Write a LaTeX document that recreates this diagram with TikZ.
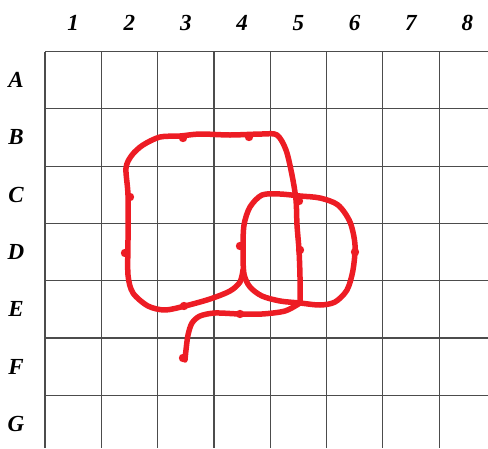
\documentclass[tikz,border=0pt]{standalone}
\usepackage{fontspec}
\setmainfont{Liberation Serif}
\definecolor{penred}{RGB}{237,28,36}
\tikzset{
  gridline/.style={line width=1.2pt,black!70},
  route/.style={line width=5.5pt,penred,line cap=round,line join=round},
  lbl/.style={font=\fontsize{23}{26}\selectfont\bfseries\itshape}
}
\begin{document}
\begin{tikzpicture}[x=1pt,y=-1pt]
  \useasboundingbox (0,0) rectangle (488,448);
  \foreach \i in {0,...,7}{ \draw[gridline] (45+56.3*\i,51.5) -- (45+56.3*\i,448); }
  \foreach \j in {0,...,6}{ \draw[gridline] (45,51.5+57.3*\j) -- (488,51.5+57.3*\j); }
  \foreach \i in {1,...,8}{ \node[lbl] (col\i) at (45+56.3*\i-28.15,23) {\i}; }
  \foreach \l [count=\j] in {A,B,C,D,E,F,G}{ \node[lbl] (row\l) at (16,51.5+57.3*\j-28.65) {\l}; }
  \draw[route] plot[smooth] coordinates {(300,303) (300,277) (299,250) (297,225) (296,200) (292,175) (286,150) (277,135) (262,134) (230,135) (200,134) (180,136) (160,137) (143,145) (132,155) (126,168) (128,195) (128,240) (128,275) (133,293) (148,306) (165,310) (185,306) (210,299) (230,291) (240,282) (243,270)};
  \draw[route] plot[smooth cycle] coordinates {(243,250) (244,225) (250,207) (262,195) (280,194) (300,196) (320,198) (338,205) (350,222) (355,245) (353,270) (347,290) (335,302) (320,305) (300,303) (280,301) (262,296) (250,287) (244,274)};
  \draw[route] plot[smooth] coordinates {(300,303) (285,311) (262,314) (240,314) (215,313) (200,316) (192,323) (188,335) (186,350) (185,360)};
  \foreach \p in {(183,138),(249,137),(130,197),(125,253),(184,306),(240,246),(300,250),(299,201),(355,252),(240,314),(183,358)}{ \fill[penred] \p circle (4.2); }
\end{tikzpicture}
\end{document}
